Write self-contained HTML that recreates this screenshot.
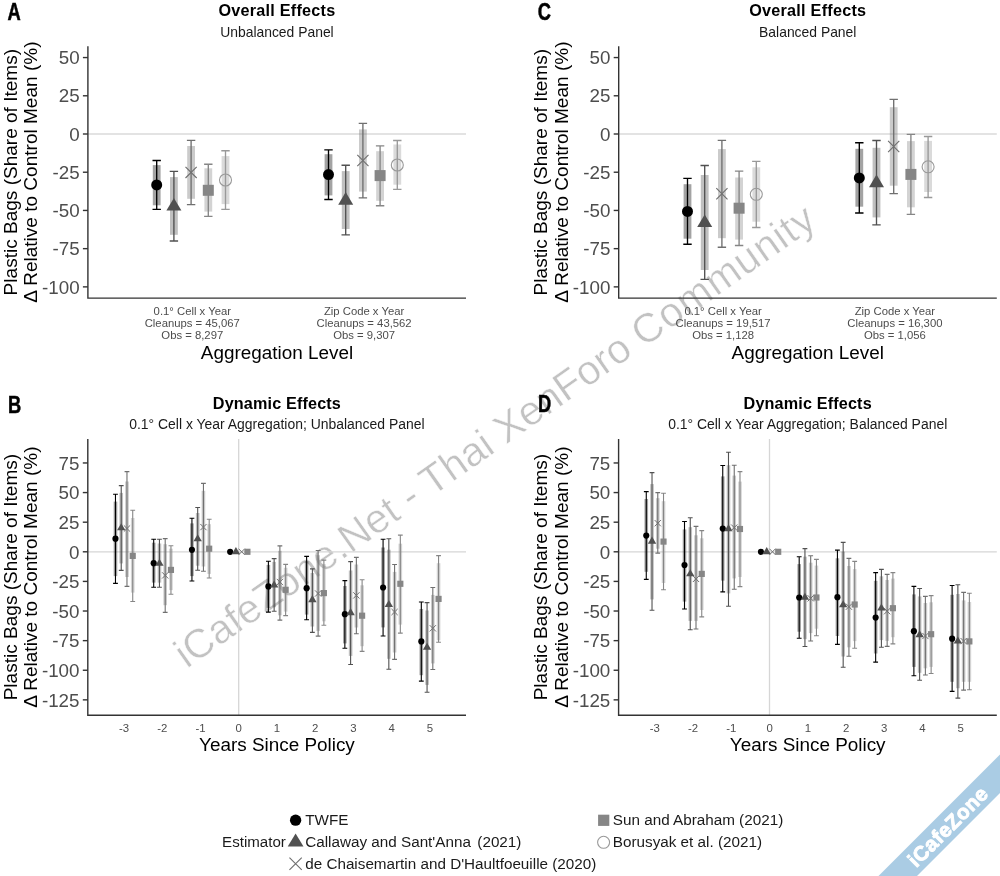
<!DOCTYPE html><html><head><meta charset="utf-8"><title>Plastic bag policy effects</title><style>html,body{margin:0;padding:0;background:#fff;}svg{display:block;will-change:transform;}</style></head><body><svg width="1000" height="876" viewBox="0 0 1000 876" font-family='"Liberation Sans", Arial, Helvetica, sans-serif'><rect width="1000" height="876" fill="#fff"/><text x="0" y="0" font-size="40.9" fill="#c2c2c2" stroke="#fff" stroke-width="0.45" font-family='"Liberation Sans", Arial, sans-serif' transform="translate(186.8 669.0) rotate(-35.1)">iCafeZone.Net - Thai XenForo <tspan textLength="213.5" lengthAdjust="spacing">Community</tspan></text><line x1="87.9" y1="134.0" x2="466" y2="134.0" stroke="#dadada" stroke-width="1.6"/><rect x="152.8" y="165.1" width="7.8" height="40.2" fill="#000000" fill-opacity="0.36"/><path d="M156.7 160.5V209.4M152.5 160.5H160.9M152.5 209.4H160.9" stroke="#000000" stroke-width="1.35" fill="none"/><circle cx="156.7" cy="184.9" r="5.5" fill="#000000"/><rect x="170" y="177.1" width="7.8" height="57.7" fill="#515151" fill-opacity="0.36"/><path d="M173.9 171.4V241M169.7 171.4H178.1M169.7 241H178.1" stroke="#515151" stroke-width="1.35" fill="none"/><polygon points="173.9,198 181.4,210.6 166.4,210.6" fill="#515151"/><rect x="187.2" y="146" width="7.8" height="52.8" fill="#707070" fill-opacity="0.36"/><path d="M191.1 140.4V204.6M186.9 140.4H195.3M186.9 204.6H195.3" stroke="#707070" stroke-width="1.35" fill="none"/><path d="M185.5 166.8L196.7 178M185.5 178L196.7 166.8" stroke="#707070" stroke-width="1.15" fill="none"/><rect x="204.4" y="168.3" width="7.8" height="43.3" fill="#868686" fill-opacity="0.36"/><path d="M208.3 164.2V216.4M204.1 164.2H212.5M204.1 216.4H212.5" stroke="#868686" stroke-width="1.35" fill="none"/><rect x="202.8" y="184.8" width="11" height="11" fill="#868686"/><rect x="221.6" y="156.1" width="7.8" height="48" fill="#999999" fill-opacity="0.36"/><path d="M225.5 150.7V209.4M221.3 150.7H229.7M221.3 209.4H229.7" stroke="#999999" stroke-width="1.35" fill="none"/><circle cx="225.5" cy="180" r="6" fill="none" stroke="#999999" stroke-width="1.1"/><rect x="324.6" y="154.2" width="7.8" height="41.2" fill="#000000" fill-opacity="0.36"/><path d="M328.5 149.8V199.5M324.3 149.8H332.7M324.3 199.5H332.7" stroke="#000000" stroke-width="1.35" fill="none"/><circle cx="328.5" cy="174.6" r="5.5" fill="#000000"/><rect x="341.8" y="171.1" width="7.8" height="57.9" fill="#515151" fill-opacity="0.36"/><path d="M345.7 165.2V234.9M341.5 165.2H349.9M341.5 234.9H349.9" stroke="#515151" stroke-width="1.35" fill="none"/><polygon points="345.7,192.1 353.2,204.7 338.2,204.7" fill="#515151"/><rect x="359" y="129.4" width="7.8" height="62.2" fill="#707070" fill-opacity="0.36"/><path d="M362.9 123.4V197.9M358.7 123.4H367.1M358.7 197.9H367.1" stroke="#707070" stroke-width="1.35" fill="none"/><path d="M357.3 154.9L368.5 166.1M357.3 166.1L368.5 154.9" stroke="#707070" stroke-width="1.15" fill="none"/><rect x="376.2" y="151.2" width="7.8" height="49.6" fill="#868686" fill-opacity="0.36"/><path d="M380.1 145.8V205.7M375.9 145.8H384.3M375.9 205.7H384.3" stroke="#868686" stroke-width="1.35" fill="none"/><rect x="374.6" y="170.1" width="11" height="11" fill="#868686"/><rect x="393.4" y="144.5" width="7.8" height="40.2" fill="#999999" fill-opacity="0.36"/><path d="M397.3 140.5V189.3M393.1 140.5H401.5M393.1 189.3H401.5" stroke="#999999" stroke-width="1.35" fill="none"/><circle cx="397.3" cy="165" r="6" fill="none" stroke="#999999" stroke-width="1.1"/><path d="M87.9 46.2V298.1H466" stroke="#333" stroke-width="1.4" fill="none"/><line x1="82.9" y1="57.56" x2="87.9" y2="57.56" stroke="#333" stroke-width="1.4"/><text x="79.6" y="64.27" font-size="18.8" text-anchor="end" font-weight="normal" fill="#4d4d4d">50</text><line x1="82.9" y1="95.78" x2="87.9" y2="95.78" stroke="#333" stroke-width="1.4"/><text x="79.6" y="102.48" font-size="18.8" text-anchor="end" font-weight="normal" fill="#4d4d4d">25</text><line x1="82.9" y1="134" x2="87.9" y2="134" stroke="#333" stroke-width="1.4"/><text x="79.6" y="140.7" font-size="18.8" text-anchor="end" font-weight="normal" fill="#4d4d4d">0</text><line x1="82.9" y1="172.22" x2="87.9" y2="172.22" stroke="#333" stroke-width="1.4"/><text x="79.6" y="178.92" font-size="18.8" text-anchor="end" font-weight="normal" fill="#4d4d4d">-25</text><line x1="82.9" y1="210.44" x2="87.9" y2="210.44" stroke="#333" stroke-width="1.4"/><text x="79.6" y="217.13" font-size="18.8" text-anchor="end" font-weight="normal" fill="#4d4d4d">-50</text><line x1="82.9" y1="248.65" x2="87.9" y2="248.65" stroke="#333" stroke-width="1.4"/><text x="79.6" y="255.35" font-size="18.8" text-anchor="end" font-weight="normal" fill="#4d4d4d">-75</text><line x1="82.9" y1="286.87" x2="87.9" y2="286.87" stroke="#333" stroke-width="1.4"/><text x="79.6" y="293.57" font-size="18.8" text-anchor="end" font-weight="normal" fill="#4d4d4d">-100</text><text x="192.3" y="315.2" font-size="11.3" text-anchor="middle" font-weight="normal" fill="#4d4d4d">0.1° Cell x Year</text><text x="192.3" y="327.1" font-size="11.3" text-anchor="middle" font-weight="normal" fill="#4d4d4d">Cleanups = 45,067</text><text x="192.3" y="339" font-size="11.3" text-anchor="middle" font-weight="normal" fill="#4d4d4d">Obs = 8,297</text><text x="364.1" y="315.2" font-size="11.3" text-anchor="middle" font-weight="normal" fill="#4d4d4d">Zip Code x Year</text><text x="364.1" y="327.1" font-size="11.3" text-anchor="middle" font-weight="normal" fill="#4d4d4d">Cleanups = 43,562</text><text x="364.1" y="339" font-size="11.3" text-anchor="middle" font-weight="normal" fill="#4d4d4d">Obs = 9,307</text><text x="276.95" y="358.8" font-size="18.9" text-anchor="middle" font-weight="normal" fill="#000">Aggregation Level</text><text x="276.95" y="16.1" font-size="16.2" text-anchor="middle" font-weight="bold" fill="#000" letter-spacing="0.25">Overall Effects</text><text x="276.95" y="36.5" font-size="13.9" text-anchor="middle" font-weight="normal" fill="#1a1a1a">Unbalanced Panel</text><text x="16.6" y="172.15" font-size="19.05" text-anchor="middle" font-weight="normal" fill="#000" transform="rotate(-90 16.6 172.15)">Plastic Bags (Share of Items)</text><text x="37.2" y="172.15" font-size="19.05" text-anchor="middle" font-weight="normal" fill="#000" transform="rotate(-90 37.2 172.15)">&#916; Relative to Control Mean (%)</text><line x1="618.7" y1="134.0" x2="996.8" y2="134.0" stroke="#dadada" stroke-width="1.6"/><rect x="683.6" y="184.2" width="7.8" height="54.5" fill="#000000" fill-opacity="0.36"/><path d="M687.5 178.3V244.2M683.3 178.3H691.7M683.3 244.2H691.7" stroke="#000000" stroke-width="1.35" fill="none"/><circle cx="687.5" cy="211.4" r="5.5" fill="#000000"/><rect x="700.8" y="175" width="7.8" height="95" fill="#515151" fill-opacity="0.36"/><path d="M704.7 165.5V279.4M700.5 165.5H708.9M700.5 279.4H708.9" stroke="#515151" stroke-width="1.35" fill="none"/><polygon points="704.7,214.4 712.2,227 697.2,227" fill="#515151"/><rect x="718" y="149.1" width="7.8" height="89.1" fill="#707070" fill-opacity="0.36"/><path d="M721.9 140.4V247.2M717.7 140.4H726.1M717.7 247.2H726.1" stroke="#707070" stroke-width="1.35" fill="none"/><path d="M716.3 188.2L727.5 199.4M716.3 199.4L727.5 188.2" stroke="#707070" stroke-width="1.15" fill="none"/><rect x="735.2" y="177.5" width="7.8" height="62.1" fill="#868686" fill-opacity="0.36"/><path d="M739.1 171.1V245.5M734.9 171.1H743.3M734.9 245.5H743.3" stroke="#868686" stroke-width="1.35" fill="none"/><rect x="733.6" y="202.7" width="11" height="11" fill="#868686"/><rect x="752.4" y="167.3" width="7.8" height="54.4" fill="#999999" fill-opacity="0.36"/><path d="M756.3 161.4V227.5M752.1 161.4H760.5M752.1 227.5H760.5" stroke="#999999" stroke-width="1.35" fill="none"/><circle cx="756.3" cy="194.3" r="6" fill="none" stroke="#999999" stroke-width="1.1"/><rect x="855.4" y="148.8" width="7.8" height="57.9" fill="#000000" fill-opacity="0.36"/><path d="M859.3 142.7V213M855.1 142.7H863.5M855.1 213H863.5" stroke="#000000" stroke-width="1.35" fill="none"/><circle cx="859.3" cy="177.9" r="5.5" fill="#000000"/><rect x="872.6" y="147.8" width="7.8" height="69.6" fill="#515151" fill-opacity="0.36"/><path d="M876.5 140.5V224.9M872.3 140.5H880.7M872.3 224.9H880.7" stroke="#515151" stroke-width="1.35" fill="none"/><polygon points="876.5,174.6 884,187.2 869,187.2" fill="#515151"/><rect x="889.8" y="107.2" width="7.8" height="78.5" fill="#707070" fill-opacity="0.36"/><path d="M893.7 99.4V193.6M889.5 99.4H897.9M889.5 193.6H897.9" stroke="#707070" stroke-width="1.35" fill="none"/><path d="M888.1 140.9L899.3 152.1M888.1 152.1L899.3 140.9" stroke="#707070" stroke-width="1.15" fill="none"/><rect x="907" y="141.1" width="7.8" height="66.2" fill="#868686" fill-opacity="0.36"/><path d="M910.9 134.3V214.4M906.7 134.3H915.1M906.7 214.4H915.1" stroke="#868686" stroke-width="1.35" fill="none"/><rect x="905.4" y="168.9" width="11" height="11" fill="#868686"/><rect x="924.2" y="140.9" width="7.8" height="51.1" fill="#999999" fill-opacity="0.36"/><path d="M928.1 136.5V197.5M923.9 136.5H932.3M923.9 197.5H932.3" stroke="#999999" stroke-width="1.35" fill="none"/><circle cx="928.1" cy="166.8" r="6" fill="none" stroke="#999999" stroke-width="1.1"/><path d="M618.7 46.2V298.1H996.8" stroke="#333" stroke-width="1.4" fill="none"/><line x1="613.7" y1="57.56" x2="618.7" y2="57.56" stroke="#333" stroke-width="1.4"/><text x="610.4" y="64.27" font-size="18.8" text-anchor="end" font-weight="normal" fill="#4d4d4d">50</text><line x1="613.7" y1="95.78" x2="618.7" y2="95.78" stroke="#333" stroke-width="1.4"/><text x="610.4" y="102.48" font-size="18.8" text-anchor="end" font-weight="normal" fill="#4d4d4d">25</text><line x1="613.7" y1="134" x2="618.7" y2="134" stroke="#333" stroke-width="1.4"/><text x="610.4" y="140.7" font-size="18.8" text-anchor="end" font-weight="normal" fill="#4d4d4d">0</text><line x1="613.7" y1="172.22" x2="618.7" y2="172.22" stroke="#333" stroke-width="1.4"/><text x="610.4" y="178.92" font-size="18.8" text-anchor="end" font-weight="normal" fill="#4d4d4d">-25</text><line x1="613.7" y1="210.44" x2="618.7" y2="210.44" stroke="#333" stroke-width="1.4"/><text x="610.4" y="217.13" font-size="18.8" text-anchor="end" font-weight="normal" fill="#4d4d4d">-50</text><line x1="613.7" y1="248.65" x2="618.7" y2="248.65" stroke="#333" stroke-width="1.4"/><text x="610.4" y="255.35" font-size="18.8" text-anchor="end" font-weight="normal" fill="#4d4d4d">-75</text><line x1="613.7" y1="286.87" x2="618.7" y2="286.87" stroke="#333" stroke-width="1.4"/><text x="610.4" y="293.57" font-size="18.8" text-anchor="end" font-weight="normal" fill="#4d4d4d">-100</text><text x="723.1" y="315.2" font-size="11.3" text-anchor="middle" font-weight="normal" fill="#4d4d4d">0.1° Cell x Year</text><text x="723.1" y="327.1" font-size="11.3" text-anchor="middle" font-weight="normal" fill="#4d4d4d">Cleanups = 19,517</text><text x="723.1" y="339" font-size="11.3" text-anchor="middle" font-weight="normal" fill="#4d4d4d">Obs = 1,128</text><text x="894.9" y="315.2" font-size="11.3" text-anchor="middle" font-weight="normal" fill="#4d4d4d">Zip Code x Year</text><text x="894.9" y="327.1" font-size="11.3" text-anchor="middle" font-weight="normal" fill="#4d4d4d">Cleanups = 16,300</text><text x="894.9" y="339" font-size="11.3" text-anchor="middle" font-weight="normal" fill="#4d4d4d">Obs = 1,056</text><text x="807.75" y="358.8" font-size="18.9" text-anchor="middle" font-weight="normal" fill="#000">Aggregation Level</text><text x="807.75" y="16.1" font-size="16.2" text-anchor="middle" font-weight="bold" fill="#000" letter-spacing="0.25">Overall Effects</text><text x="807.75" y="36.5" font-size="13.9" text-anchor="middle" font-weight="normal" fill="#1a1a1a">Balanced Panel</text><text x="547.4" y="172.15" font-size="19.05" text-anchor="middle" font-weight="normal" fill="#000" transform="rotate(-90 547.4 172.15)">Plastic Bags (Share of Items)</text><text x="568" y="172.15" font-size="19.05" text-anchor="middle" font-weight="normal" fill="#000" transform="rotate(-90 568 172.15)">&#916; Relative to Control Mean (%)</text><line x1="87.8" y1="551.8" x2="466" y2="551.8" stroke="#d6d6d6" stroke-width="1.3"/><line x1="238.7" y1="438.9" x2="238.7" y2="715.3" stroke="#d6d6d6" stroke-width="1.3"/><rect x="113.67" y="501.6" width="3.6" height="74.5" fill="#000000" fill-opacity="0.36"/><path d="M115.47 494.3V583.4M113.07 494.3H117.88M113.07 583.4H117.88" stroke="#000000" stroke-width="1.1" fill="none"/><circle cx="115.47" cy="538.7" r="3.08" fill="#000000"/><rect x="119.42" y="492.9" width="3.6" height="70.5" fill="#515151" fill-opacity="0.36"/><path d="M121.22 485.6V570.4M118.82 485.6H123.62M118.82 570.4H123.62" stroke="#515151" stroke-width="1.1" fill="none"/><polygon points="121.22,523.3 125.42,530.35 117.02,530.35" fill="#515151"/><rect x="125.17" y="481.5" width="3.6" height="95.5" fill="#707070" fill-opacity="0.36"/><path d="M126.97 471.6V586.4M124.57 471.6H129.38M124.57 586.4H129.38" stroke="#707070" stroke-width="1.1" fill="none"/><path d="M123.84 525.36L130.11 531.64M123.84 531.64L130.11 525.36" stroke="#707070" stroke-width="1" fill="none"/><rect x="130.92" y="518" width="3.6" height="74.6" fill="#868686" fill-opacity="0.36"/><path d="M132.72 510.3V601.5M130.32 510.3H135.12M130.32 601.5H135.12" stroke="#868686" stroke-width="1.1" fill="none"/><rect x="129.64" y="552.82" width="6.16" height="6.16" fill="#868686"/><rect x="151.9" y="542.7" width="3.6" height="39.9" fill="#000000" fill-opacity="0.36"/><path d="M153.7 539.3V587.3M151.3 539.3H156.1M151.3 587.3H156.1" stroke="#000000" stroke-width="1.1" fill="none"/><circle cx="153.7" cy="563.2" r="3.08" fill="#000000"/><rect x="157.65" y="543.5" width="3.6" height="39.1" fill="#515151" fill-opacity="0.36"/><path d="M159.45 539.3V587.3M157.05 539.3H161.85M157.05 587.3H161.85" stroke="#515151" stroke-width="1.1" fill="none"/><polygon points="159.45,558.8 163.65,565.85 155.25,565.85" fill="#515151"/><rect x="163.4" y="544.2" width="3.6" height="61" fill="#707070" fill-opacity="0.36"/><path d="M165.2 538.6V612.4M162.8 538.6H167.6M162.8 612.4H167.6" stroke="#707070" stroke-width="1.1" fill="none"/><path d="M162.07 572.26L168.34 578.54M162.07 578.54L168.34 572.26" stroke="#707070" stroke-width="1" fill="none"/><rect x="169.15" y="548.7" width="3.6" height="41.4" fill="#868686" fill-opacity="0.36"/><path d="M170.95 545.7V594.2M168.55 545.7H173.35M168.55 594.2H173.35" stroke="#868686" stroke-width="1.1" fill="none"/><rect x="167.87" y="566.82" width="6.16" height="6.16" fill="#868686"/><rect x="190.13" y="523.4" width="3.6" height="52.7" fill="#000000" fill-opacity="0.36"/><path d="M191.94 518.2V581M189.53 518.2H194.34M189.53 581H194.34" stroke="#000000" stroke-width="1.1" fill="none"/><circle cx="191.94" cy="549.8" r="3.08" fill="#000000"/><rect x="195.88" y="513" width="3.6" height="52.7" fill="#515151" fill-opacity="0.36"/><path d="M197.69 507.5V570.2M195.28 507.5H200.09M195.28 570.2H200.09" stroke="#515151" stroke-width="1.1" fill="none"/><polygon points="197.69,534.3 201.88,541.35 193.49,541.35" fill="#515151"/><rect x="201.63" y="490.8" width="3.6" height="75.7" fill="#707070" fill-opacity="0.36"/><path d="M203.44 483.4V571.2M201.03 483.4H205.84M201.03 571.2H205.84" stroke="#707070" stroke-width="1.1" fill="none"/><path d="M200.3 523.96L206.57 530.24M200.3 530.24L206.57 523.96" stroke="#707070" stroke-width="1" fill="none"/><rect x="207.38" y="524.2" width="3.6" height="49.7" fill="#868686" fill-opacity="0.36"/><path d="M209.19 519.3V578M206.78 519.3H211.59M206.78 578H211.59" stroke="#868686" stroke-width="1.1" fill="none"/><rect x="206.1" y="545.62" width="6.16" height="6.16" fill="#868686"/><circle cx="230.16" cy="551.8" r="3.08" fill="#000000"/><polygon points="235.91,547.1 240.11,554.15 231.72,554.15" fill="#515151"/><path d="M238.53 548.66L244.8 554.94M238.53 554.94L244.8 548.66" stroke="#707070" stroke-width="1" fill="none"/><rect x="244.33" y="548.72" width="6.16" height="6.16" fill="#868686"/><rect x="266.59" y="564.9" width="3.6" height="43" fill="#000000" fill-opacity="0.36"/><path d="M268.39 561.2V612.1M266 561.2H270.79M266 612.1H270.79" stroke="#000000" stroke-width="1.1" fill="none"/><circle cx="268.39" cy="586.4" r="3.08" fill="#000000"/><rect x="272.34" y="561.9" width="3.6" height="45.3" fill="#515151" fill-opacity="0.36"/><path d="M274.14 558.6V611.3M271.75 558.6H276.54M271.75 611.3H276.54" stroke="#515151" stroke-width="1.1" fill="none"/><polygon points="274.14,580.5 278.34,587.55 269.94,587.55" fill="#515151"/><rect x="278.09" y="550.8" width="3.6" height="64.5" fill="#707070" fill-opacity="0.36"/><path d="M279.89 545.9V620.1M277.5 545.9H282.29M277.5 620.1H282.29" stroke="#707070" stroke-width="1.1" fill="none"/><path d="M276.76 578.86L283.03 585.14M276.76 585.14L283.03 578.86" stroke="#707070" stroke-width="1" fill="none"/><rect x="283.84" y="567.8" width="3.6" height="43.8" fill="#868686" fill-opacity="0.36"/><path d="M285.64 564.4V615.6M283.25 564.4H288.04M283.25 615.6H288.04" stroke="#868686" stroke-width="1.1" fill="none"/><rect x="282.56" y="586.72" width="6.16" height="6.16" fill="#868686"/><rect x="304.82" y="561.2" width="3.6" height="53.4" fill="#000000" fill-opacity="0.36"/><path d="M306.62 556.4V619.8M304.23 556.4H309.02M304.23 619.8H309.02" stroke="#000000" stroke-width="1.1" fill="none"/><circle cx="306.62" cy="588.2" r="3.08" fill="#000000"/><rect x="310.57" y="573" width="3.6" height="53.5" fill="#515151" fill-opacity="0.36"/><path d="M312.38 568.9V632.4M309.98 568.9H314.77M309.98 632.4H314.77" stroke="#515151" stroke-width="1.1" fill="none"/><polygon points="312.38,595.1 316.57,602.15 308.18,602.15" fill="#515151"/><rect x="316.32" y="555.2" width="3.6" height="75.7" fill="#707070" fill-opacity="0.36"/><path d="M318.12 550.5V636.1M315.73 550.5H320.52M315.73 636.1H320.52" stroke="#707070" stroke-width="1.1" fill="none"/><path d="M314.99 590.36L321.26 596.64M314.99 596.64L321.26 590.36" stroke="#707070" stroke-width="1" fill="none"/><rect x="322.07" y="564.1" width="3.6" height="57.2" fill="#868686" fill-opacity="0.36"/><path d="M323.88 560.1V625.3M321.48 560.1H326.27M321.48 625.3H326.27" stroke="#868686" stroke-width="1.1" fill="none"/><rect x="320.8" y="590.02" width="6.16" height="6.16" fill="#868686"/><rect x="343.06" y="586" width="3.6" height="57.4" fill="#000000" fill-opacity="0.36"/><path d="M344.86 580.6V648.3M342.46 580.6H347.25M342.46 648.3H347.25" stroke="#000000" stroke-width="1.1" fill="none"/><circle cx="344.86" cy="614.2" r="3.08" fill="#000000"/><rect x="348.81" y="570.5" width="3.6" height="85.4" fill="#515151" fill-opacity="0.36"/><path d="M350.61 561.6V664.5M348.21 561.6H353M348.21 664.5H353" stroke="#515151" stroke-width="1.1" fill="none"/><polygon points="350.61,608.1 354.81,615.15 346.41,615.15" fill="#515151"/><rect x="354.56" y="564.5" width="3.6" height="63" fill="#707070" fill-opacity="0.36"/><path d="M356.36 557.4V633.7M353.96 557.4H358.75M353.96 633.7H358.75" stroke="#707070" stroke-width="1.1" fill="none"/><path d="M353.22 592.26L359.49 598.54M353.22 598.54L359.49 592.26" stroke="#707070" stroke-width="1" fill="none"/><rect x="360.31" y="585.3" width="3.6" height="60.9" fill="#868686" fill-opacity="0.36"/><path d="M362.11 579.8V651.4M359.71 579.8H364.5M359.71 651.4H364.5" stroke="#868686" stroke-width="1.1" fill="none"/><rect x="359.03" y="612.62" width="6.16" height="6.16" fill="#868686"/><rect x="381.28" y="547.5" width="3.6" height="79.9" fill="#000000" fill-opacity="0.36"/><path d="M383.08 539.3V636M380.68 539.3H385.48M380.68 636H385.48" stroke="#000000" stroke-width="1.1" fill="none"/><circle cx="383.08" cy="587.5" r="3.08" fill="#000000"/><rect x="387.03" y="549.7" width="3.6" height="109.1" fill="#515151" fill-opacity="0.36"/><path d="M388.83 538.8V669.3M386.43 538.8H391.23M386.43 669.3H391.23" stroke="#515151" stroke-width="1.1" fill="none"/><polygon points="388.83,599.9 393.03,606.95 384.63,606.95" fill="#515151"/><rect x="392.78" y="571.9" width="3.6" height="80.6" fill="#707070" fill-opacity="0.36"/><path d="M394.58 564.5V659.4M392.18 564.5H396.98M392.18 659.4H396.98" stroke="#707070" stroke-width="1.1" fill="none"/><path d="M391.45 608.86L397.72 615.14M391.45 615.14L397.72 608.86" stroke="#707070" stroke-width="1" fill="none"/><rect x="398.53" y="543.7" width="3.6" height="80.9" fill="#868686" fill-opacity="0.36"/><path d="M400.33 535.1V633.1M397.93 535.1H402.73M397.93 633.1H402.73" stroke="#868686" stroke-width="1.1" fill="none"/><rect x="397.25" y="580.72" width="6.16" height="6.16" fill="#868686"/><rect x="419.51" y="609" width="3.6" height="66.2" fill="#000000" fill-opacity="0.36"/><path d="M421.31 602V681.1M418.91 602H423.71M418.91 681.1H423.71" stroke="#000000" stroke-width="1.1" fill="none"/><circle cx="421.31" cy="641.4" r="3.08" fill="#000000"/><rect x="425.26" y="610.5" width="3.6" height="74.4" fill="#515151" fill-opacity="0.36"/><path d="M427.06 602.6V692.3M424.66 602.6H429.46M424.66 692.3H429.46" stroke="#515151" stroke-width="1.1" fill="none"/><polygon points="427.06,642.7 431.26,649.75 422.86,649.75" fill="#515151"/><rect x="431.01" y="594.9" width="3.6" height="68.5" fill="#707070" fill-opacity="0.36"/><path d="M432.81 587.5V669.5M430.41 587.5H435.21M430.41 669.5H435.21" stroke="#707070" stroke-width="1.1" fill="none"/><path d="M429.68 625.16L435.95 631.44M429.68 631.44L435.95 625.16" stroke="#707070" stroke-width="1" fill="none"/><rect x="436.76" y="563.2" width="3.6" height="77.1" fill="#868686" fill-opacity="0.36"/><path d="M438.56 555.6V642.3M436.16 555.6H440.96M436.16 642.3H440.96" stroke="#868686" stroke-width="1.1" fill="none"/><rect x="435.48" y="595.82" width="6.16" height="6.16" fill="#868686"/><path d="M87.8 438.9V715.3H466" stroke="#333" stroke-width="1.4" fill="none"/><line x1="82.8" y1="462.96" x2="87.8" y2="462.96" stroke="#333" stroke-width="1.4"/><text x="79.5" y="469.66" font-size="18.8" text-anchor="end" font-weight="normal" fill="#4d4d4d">75</text><line x1="82.8" y1="492.57" x2="87.8" y2="492.57" stroke="#333" stroke-width="1.4"/><text x="79.5" y="499.27" font-size="18.8" text-anchor="end" font-weight="normal" fill="#4d4d4d">50</text><line x1="82.8" y1="522.19" x2="87.8" y2="522.19" stroke="#333" stroke-width="1.4"/><text x="79.5" y="528.89" font-size="18.8" text-anchor="end" font-weight="normal" fill="#4d4d4d">25</text><line x1="82.8" y1="551.8" x2="87.8" y2="551.8" stroke="#333" stroke-width="1.4"/><text x="79.5" y="558.5" font-size="18.8" text-anchor="end" font-weight="normal" fill="#4d4d4d">0</text><line x1="82.8" y1="581.41" x2="87.8" y2="581.41" stroke="#333" stroke-width="1.4"/><text x="79.5" y="588.11" font-size="18.8" text-anchor="end" font-weight="normal" fill="#4d4d4d">-25</text><line x1="82.8" y1="611.02" x2="87.8" y2="611.02" stroke="#333" stroke-width="1.4"/><text x="79.5" y="617.73" font-size="18.8" text-anchor="end" font-weight="normal" fill="#4d4d4d">-50</text><line x1="82.8" y1="640.64" x2="87.8" y2="640.64" stroke="#333" stroke-width="1.4"/><text x="79.5" y="647.34" font-size="18.8" text-anchor="end" font-weight="normal" fill="#4d4d4d">-75</text><line x1="82.8" y1="670.25" x2="87.8" y2="670.25" stroke="#333" stroke-width="1.4"/><text x="79.5" y="676.95" font-size="18.8" text-anchor="end" font-weight="normal" fill="#4d4d4d">-100</text><line x1="82.8" y1="699.86" x2="87.8" y2="699.86" stroke="#333" stroke-width="1.4"/><text x="79.5" y="706.56" font-size="18.8" text-anchor="end" font-weight="normal" fill="#4d4d4d">-125</text><text x="124.1" y="731.6" font-size="11.4" text-anchor="middle" font-weight="normal" fill="#4d4d4d">-3</text><text x="162.33" y="731.6" font-size="11.4" text-anchor="middle" font-weight="normal" fill="#4d4d4d">-2</text><text x="200.56" y="731.6" font-size="11.4" text-anchor="middle" font-weight="normal" fill="#4d4d4d">-1</text><text x="238.79" y="731.6" font-size="11.4" text-anchor="middle" font-weight="normal" fill="#4d4d4d">0</text><text x="277.02" y="731.6" font-size="11.4" text-anchor="middle" font-weight="normal" fill="#4d4d4d">1</text><text x="315.25" y="731.6" font-size="11.4" text-anchor="middle" font-weight="normal" fill="#4d4d4d">2</text><text x="353.48" y="731.6" font-size="11.4" text-anchor="middle" font-weight="normal" fill="#4d4d4d">3</text><text x="391.71" y="731.6" font-size="11.4" text-anchor="middle" font-weight="normal" fill="#4d4d4d">4</text><text x="429.94" y="731.6" font-size="11.4" text-anchor="middle" font-weight="normal" fill="#4d4d4d">5</text><text x="276.9" y="751.2" font-size="18.9" text-anchor="middle" font-weight="normal" fill="#000">Years Since Policy</text><text x="276.9" y="408.6" font-size="16.2" text-anchor="middle" font-weight="bold" fill="#000" letter-spacing="0.15">Dynamic Effects</text><text x="276.9" y="429" font-size="13.95" text-anchor="middle" font-weight="normal" fill="#1a1a1a">0.1° Cell x Year Aggregation; Unbalanced Panel</text><text x="16.6" y="577.1" font-size="19.05" text-anchor="middle" font-weight="normal" fill="#000" transform="rotate(-90 16.6 577.1)">Plastic Bags (Share of Items)</text><text x="37.2" y="577.1" font-size="19.05" text-anchor="middle" font-weight="normal" fill="#000" transform="rotate(-90 37.2 577.1)">&#916; Relative to Control Mean (%)</text><line x1="618.6" y1="551.8" x2="996.8" y2="551.8" stroke="#d6d6d6" stroke-width="1.3"/><line x1="769.5" y1="438.9" x2="769.5" y2="715.3" stroke="#d6d6d6" stroke-width="1.3"/><rect x="644.48" y="499" width="3.6" height="72.8" fill="#000000" fill-opacity="0.36"/><path d="M646.27 491.6V579.4M643.88 491.6H648.67M643.88 579.4H648.67" stroke="#000000" stroke-width="1.1" fill="none"/><circle cx="646.27" cy="535.6" r="3.08" fill="#000000"/><rect x="650.23" y="484.1" width="3.6" height="115.3" fill="#515151" fill-opacity="0.36"/><path d="M652.02 472.6V610.2M649.62 472.6H654.42M649.62 610.2H654.42" stroke="#515151" stroke-width="1.1" fill="none"/><polygon points="652.02,536.6 656.23,543.65 647.82,543.65" fill="#515151"/><rect x="655.98" y="498.2" width="3.6" height="50.5" fill="#707070" fill-opacity="0.36"/><path d="M657.77 492.6V553.1M655.38 492.6H660.17M655.38 553.1H660.17" stroke="#707070" stroke-width="1.1" fill="none"/><path d="M654.64 520.06L660.91 526.34M654.64 526.34L660.91 520.06" stroke="#707070" stroke-width="1" fill="none"/><rect x="661.73" y="501.2" width="3.6" height="81.8" fill="#868686" fill-opacity="0.36"/><path d="M663.52 493.3V589.7M661.12 493.3H665.92M661.12 589.7H665.92" stroke="#868686" stroke-width="1.1" fill="none"/><rect x="660.44" y="538.52" width="6.16" height="6.16" fill="#868686"/><rect x="682.71" y="529.4" width="3.6" height="72.2" fill="#000000" fill-opacity="0.36"/><path d="M684.5 521.5V609M682.11 521.5H686.9M682.11 609H686.9" stroke="#000000" stroke-width="1.1" fill="none"/><circle cx="684.5" cy="565.1" r="3.08" fill="#000000"/><rect x="688.46" y="527.2" width="3.6" height="93.7" fill="#515151" fill-opacity="0.36"/><path d="M690.25 517.8V629.8M687.86 517.8H692.65M687.86 629.8H692.65" stroke="#515151" stroke-width="1.1" fill="none"/><polygon points="690.25,569.3 694.46,576.35 686.05,576.35" fill="#515151"/><rect x="694.21" y="535.3" width="3.6" height="85.6" fill="#707070" fill-opacity="0.36"/><path d="M696 526.4V629M693.61 526.4H698.4M693.61 629H698.4" stroke="#707070" stroke-width="1.1" fill="none"/><path d="M692.87 575.76L699.14 582.04M692.87 582.04L699.14 575.76" stroke="#707070" stroke-width="1" fill="none"/><rect x="699.96" y="538.3" width="3.6" height="71.7" fill="#868686" fill-opacity="0.36"/><path d="M701.75 530.6V616.9M699.36 530.6H704.15M699.36 616.9H704.15" stroke="#868686" stroke-width="1.1" fill="none"/><rect x="698.67" y="570.82" width="6.16" height="6.16" fill="#868686"/><rect x="720.94" y="476.4" width="3.6" height="104.2" fill="#000000" fill-opacity="0.36"/><path d="M722.74 465.5V591.9M720.34 465.5H725.13M720.34 591.9H725.13" stroke="#000000" stroke-width="1.1" fill="none"/><circle cx="722.74" cy="528.6" r="3.08" fill="#000000"/><rect x="726.69" y="465.2" width="3.6" height="128.2" fill="#515151" fill-opacity="0.36"/><path d="M728.49 452.3V606.2M726.09 452.3H730.88M726.09 606.2H730.88" stroke="#515151" stroke-width="1.1" fill="none"/><polygon points="728.49,524.3 732.69,531.35 724.28,531.35" fill="#515151"/><rect x="732.44" y="475.6" width="3.6" height="102.8" fill="#707070" fill-opacity="0.36"/><path d="M734.24 465.2V589.3M731.84 465.2H736.63M731.84 589.3H736.63" stroke="#707070" stroke-width="1.1" fill="none"/><path d="M731.1 524.46L737.37 530.74M731.1 530.74L737.37 524.46" stroke="#707070" stroke-width="1" fill="none"/><rect x="738.19" y="481.6" width="3.6" height="95.4" fill="#868686" fill-opacity="0.36"/><path d="M739.99 471.6V586.6M737.59 471.6H742.38M737.59 586.6H742.38" stroke="#868686" stroke-width="1.1" fill="none"/><rect x="736.9" y="525.92" width="6.16" height="6.16" fill="#868686"/><circle cx="760.96" cy="551.8" r="3.08" fill="#000000"/><polygon points="766.71,547.1 770.91,554.15 762.51,554.15" fill="#515151"/><path d="M769.33 548.66L775.6 554.94M769.33 554.94L775.6 548.66" stroke="#707070" stroke-width="1" fill="none"/><rect x="775.13" y="548.72" width="6.16" height="6.16" fill="#868686"/><rect x="797.39" y="564.1" width="3.6" height="67.6" fill="#000000" fill-opacity="0.36"/><path d="M799.19 556.7V638.3M796.79 556.7H801.59M796.79 638.3H801.59" stroke="#000000" stroke-width="1.1" fill="none"/><circle cx="799.19" cy="597.5" r="3.08" fill="#000000"/><rect x="803.14" y="556.7" width="3.6" height="82.4" fill="#515151" fill-opacity="0.36"/><path d="M804.94 548.6V646.5M802.54 548.6H807.34M802.54 646.5H807.34" stroke="#515151" stroke-width="1.1" fill="none"/><polygon points="804.94,592.8 809.14,599.85 800.74,599.85" fill="#515151"/><rect x="808.89" y="562.7" width="3.6" height="70.4" fill="#707070" fill-opacity="0.36"/><path d="M810.69 555.7V641M808.29 555.7H813.09M808.29 641H813.09" stroke="#707070" stroke-width="1.1" fill="none"/><path d="M807.56 595.16L813.83 601.44M807.56 601.44L813.83 595.16" stroke="#707070" stroke-width="1" fill="none"/><rect x="814.64" y="565.6" width="3.6" height="63.1" fill="#868686" fill-opacity="0.36"/><path d="M816.44 559.4V635.7M814.04 559.4H818.84M814.04 635.7H818.84" stroke="#868686" stroke-width="1.1" fill="none"/><rect x="813.36" y="594.42" width="6.16" height="6.16" fill="#868686"/><rect x="835.62" y="558.3" width="3.6" height="77.7" fill="#000000" fill-opacity="0.36"/><path d="M837.42 550.1V644.4M835.02 550.1H839.82M835.02 644.4H839.82" stroke="#000000" stroke-width="1.1" fill="none"/><circle cx="837.42" cy="597.2" r="3.08" fill="#000000"/><rect x="841.38" y="551.6" width="3.6" height="104.9" fill="#515151" fill-opacity="0.36"/><path d="M843.17 542.4V667.3M840.77 542.4H845.57M840.77 667.3H845.57" stroke="#515151" stroke-width="1.1" fill="none"/><polygon points="843.17,600.3 847.38,607.35 838.97,607.35" fill="#515151"/><rect x="847.12" y="566" width="3.6" height="81.3" fill="#707070" fill-opacity="0.36"/><path d="M848.92 558.4V656.2M846.52 558.4H851.32M846.52 656.2H851.32" stroke="#707070" stroke-width="1.1" fill="none"/><path d="M845.79 603.56L852.06 609.84M845.79 609.84L852.06 603.56" stroke="#707070" stroke-width="1" fill="none"/><rect x="852.88" y="569.1" width="3.6" height="72" fill="#868686" fill-opacity="0.36"/><path d="M854.67 561.4V648.3M852.27 561.4H857.07M852.27 648.3H857.07" stroke="#868686" stroke-width="1.1" fill="none"/><rect x="851.59" y="601.42" width="6.16" height="6.16" fill="#868686"/><rect x="873.86" y="580.8" width="3.6" height="72.7" fill="#000000" fill-opacity="0.36"/><path d="M875.65 572.6V662.1M873.25 572.6H878.05M873.25 662.1H878.05" stroke="#000000" stroke-width="1.1" fill="none"/><circle cx="875.65" cy="617.6" r="3.08" fill="#000000"/><rect x="879.61" y="576.3" width="3.6" height="63.8" fill="#515151" fill-opacity="0.36"/><path d="M881.4 569.4V647.3M879 569.4H883.8M879 647.3H883.8" stroke="#515151" stroke-width="1.1" fill="none"/><polygon points="881.4,603.5 885.61,610.55 877.2,610.55" fill="#515151"/><rect x="885.36" y="580" width="3.6" height="60.9" fill="#707070" fill-opacity="0.36"/><path d="M887.15 574.4V646.4M884.75 574.4H889.55M884.75 646.4H889.55" stroke="#707070" stroke-width="1.1" fill="none"/><path d="M884.02 608.06L890.29 614.34M884.02 614.34L890.29 608.06" stroke="#707070" stroke-width="1" fill="none"/><rect x="891.11" y="578.6" width="3.6" height="58.6" fill="#868686" fill-opacity="0.36"/><path d="M892.9 572.6V643.9M890.5 572.6H895.3M890.5 643.9H895.3" stroke="#868686" stroke-width="1.1" fill="none"/><rect x="889.82" y="605.12" width="6.16" height="6.16" fill="#868686"/><rect x="912.09" y="594.4" width="3.6" height="72.5" fill="#000000" fill-opacity="0.36"/><path d="M913.88 586.4V675.8M911.49 586.4H916.28M911.49 675.8H916.28" stroke="#000000" stroke-width="1.1" fill="none"/><circle cx="913.88" cy="631.2" r="3.08" fill="#000000"/><rect x="917.84" y="596.4" width="3.6" height="76.4" fill="#515151" fill-opacity="0.36"/><path d="M919.63 588.5V680.2M917.24 588.5H922.03M917.24 680.2H922.03" stroke="#515151" stroke-width="1.1" fill="none"/><polygon points="919.63,630.3 923.84,637.35 915.43,637.35" fill="#515151"/><rect x="923.59" y="603" width="3.6" height="65.3" fill="#707070" fill-opacity="0.36"/><path d="M925.38 596.4V675M922.99 596.4H927.78M922.99 675H927.78" stroke="#707070" stroke-width="1.1" fill="none"/><path d="M922.25 632.86L928.52 639.14M922.25 639.14L928.52 632.86" stroke="#707070" stroke-width="1" fill="none"/><rect x="929.34" y="602.3" width="3.6" height="64.6" fill="#868686" fill-opacity="0.36"/><path d="M931.13 595.6V673.5M928.74 595.6H933.53M928.74 673.5H933.53" stroke="#868686" stroke-width="1.1" fill="none"/><rect x="928.05" y="631.12" width="6.16" height="6.16" fill="#868686"/><rect x="950.32" y="594.8" width="3.6" height="87" fill="#000000" fill-opacity="0.36"/><path d="M952.12 585.5V691.4M949.72 585.5H954.51M949.72 691.4H954.51" stroke="#000000" stroke-width="1.1" fill="none"/><circle cx="952.12" cy="638.7" r="3.08" fill="#000000"/><rect x="956.07" y="594" width="3.6" height="94.2" fill="#515151" fill-opacity="0.36"/><path d="M957.87 584.7V698.1M955.47 584.7H960.26M955.47 698.1H960.26" stroke="#515151" stroke-width="1.1" fill="none"/><polygon points="957.87,636.4 962.07,643.45 953.66,643.45" fill="#515151"/><rect x="961.82" y="600.4" width="3.6" height="81.4" fill="#707070" fill-opacity="0.36"/><path d="M963.62 592.4V690.1M961.22 592.4H966.01M961.22 690.1H966.01" stroke="#707070" stroke-width="1.1" fill="none"/><path d="M960.48 637.96L966.75 644.24M960.48 644.24L966.75 637.96" stroke="#707070" stroke-width="1" fill="none"/><rect x="967.57" y="602" width="3.6" height="79.8" fill="#868686" fill-opacity="0.36"/><path d="M969.37 593.2V689.8M966.97 593.2H971.76M966.97 689.8H971.76" stroke="#868686" stroke-width="1.1" fill="none"/><rect x="966.28" y="638.32" width="6.16" height="6.16" fill="#868686"/><path d="M618.6 438.9V715.3H996.8" stroke="#333" stroke-width="1.4" fill="none"/><line x1="613.6" y1="462.96" x2="618.6" y2="462.96" stroke="#333" stroke-width="1.4"/><text x="610.3" y="469.66" font-size="18.8" text-anchor="end" font-weight="normal" fill="#4d4d4d">75</text><line x1="613.6" y1="492.57" x2="618.6" y2="492.57" stroke="#333" stroke-width="1.4"/><text x="610.3" y="499.27" font-size="18.8" text-anchor="end" font-weight="normal" fill="#4d4d4d">50</text><line x1="613.6" y1="522.19" x2="618.6" y2="522.19" stroke="#333" stroke-width="1.4"/><text x="610.3" y="528.89" font-size="18.8" text-anchor="end" font-weight="normal" fill="#4d4d4d">25</text><line x1="613.6" y1="551.8" x2="618.6" y2="551.8" stroke="#333" stroke-width="1.4"/><text x="610.3" y="558.5" font-size="18.8" text-anchor="end" font-weight="normal" fill="#4d4d4d">0</text><line x1="613.6" y1="581.41" x2="618.6" y2="581.41" stroke="#333" stroke-width="1.4"/><text x="610.3" y="588.11" font-size="18.8" text-anchor="end" font-weight="normal" fill="#4d4d4d">-25</text><line x1="613.6" y1="611.02" x2="618.6" y2="611.02" stroke="#333" stroke-width="1.4"/><text x="610.3" y="617.73" font-size="18.8" text-anchor="end" font-weight="normal" fill="#4d4d4d">-50</text><line x1="613.6" y1="640.64" x2="618.6" y2="640.64" stroke="#333" stroke-width="1.4"/><text x="610.3" y="647.34" font-size="18.8" text-anchor="end" font-weight="normal" fill="#4d4d4d">-75</text><line x1="613.6" y1="670.25" x2="618.6" y2="670.25" stroke="#333" stroke-width="1.4"/><text x="610.3" y="676.95" font-size="18.8" text-anchor="end" font-weight="normal" fill="#4d4d4d">-100</text><line x1="613.6" y1="699.86" x2="618.6" y2="699.86" stroke="#333" stroke-width="1.4"/><text x="610.3" y="706.56" font-size="18.8" text-anchor="end" font-weight="normal" fill="#4d4d4d">-125</text><text x="654.9" y="731.6" font-size="11.4" text-anchor="middle" font-weight="normal" fill="#4d4d4d">-3</text><text x="693.13" y="731.6" font-size="11.4" text-anchor="middle" font-weight="normal" fill="#4d4d4d">-2</text><text x="731.36" y="731.6" font-size="11.4" text-anchor="middle" font-weight="normal" fill="#4d4d4d">-1</text><text x="769.59" y="731.6" font-size="11.4" text-anchor="middle" font-weight="normal" fill="#4d4d4d">0</text><text x="807.82" y="731.6" font-size="11.4" text-anchor="middle" font-weight="normal" fill="#4d4d4d">1</text><text x="846.05" y="731.6" font-size="11.4" text-anchor="middle" font-weight="normal" fill="#4d4d4d">2</text><text x="884.28" y="731.6" font-size="11.4" text-anchor="middle" font-weight="normal" fill="#4d4d4d">3</text><text x="922.51" y="731.6" font-size="11.4" text-anchor="middle" font-weight="normal" fill="#4d4d4d">4</text><text x="960.74" y="731.6" font-size="11.4" text-anchor="middle" font-weight="normal" fill="#4d4d4d">5</text><text x="807.7" y="751.2" font-size="18.9" text-anchor="middle" font-weight="normal" fill="#000">Years Since Policy</text><text x="807.7" y="408.6" font-size="16.2" text-anchor="middle" font-weight="bold" fill="#000" letter-spacing="0.15">Dynamic Effects</text><text x="807.7" y="429" font-size="13.95" text-anchor="middle" font-weight="normal" fill="#1a1a1a">0.1° Cell x Year Aggregation; Balanced Panel</text><text x="547.4" y="577.1" font-size="19.05" text-anchor="middle" font-weight="normal" fill="#000" transform="rotate(-90 547.4 577.1)">Plastic Bags (Share of Items)</text><text x="568" y="577.1" font-size="19.05" text-anchor="middle" font-weight="normal" fill="#000" transform="rotate(-90 568 577.1)">&#916; Relative to Control Mean (%)</text><text x="0" y="0" font-size="23.5" font-weight="bold" fill="#000" stroke="#000" stroke-width="0.5" transform="translate(7.6 20.0) scale(0.78 1)">A</text><text x="0" y="0" font-size="23.5" font-weight="bold" fill="#000" stroke="#000" stroke-width="0.5" transform="translate(7.9 412.6) scale(0.78 1)">B</text><text x="0" y="0" font-size="23.5" font-weight="bold" fill="#000" stroke="#000" stroke-width="0.5" transform="translate(537.8 20.3) scale(0.78 1)">C</text><text x="0" y="0" font-size="23.5" font-weight="bold" fill="#000" stroke="#000" stroke-width="0.5" transform="translate(538.0 412.4) scale(0.78 1)">D</text><text x="222.1" y="847" font-size="15.1" text-anchor="start" font-weight="normal" fill="#1a1a1a">Estimator</text><circle cx="295.6" cy="820.2" r="5.67" fill="#000000"/><polygon points="295.6,833.38 303.48,846.61 287.73,846.61" fill="#515151"/><path d="M289.44 857.54L301.76 869.86M289.44 869.86L301.76 857.54" stroke="#707070" stroke-width="1.15" fill="none"/><rect x="598.09" y="814.69" width="11.22" height="11.22" fill="#868686"/><circle cx="603.6" cy="842.3" r="6" fill="none" stroke="#999999" stroke-width="1.1"/><text x="305.2" y="825.4" font-size="15.25" text-anchor="start" font-weight="normal" fill="#1a1a1a">TWFE</text><text x="305.2" y="847" font-size="15.25" text-anchor="start" font-weight="normal" fill="#1a1a1a">Callaway and Sant'Anna <tspan dx="2.2">(2021)</tspan></text><text x="305.2" y="869" font-size="15.25" text-anchor="start" font-weight="normal" fill="#1a1a1a">de Chaisemartin and D'Haultfoeuille (2020)</text><text x="612.8" y="825.4" font-size="15.25" text-anchor="start" font-weight="normal" fill="#1a1a1a">Sun and Abraham (2021)</text><text x="612.8" y="847" font-size="15.25" text-anchor="start" font-weight="normal" fill="#1a1a1a">Borusyak et al. (2021)</text><polygon points="1000,754.5 1000,793 917,876 878.5,876" fill="#aacce4"/><text x="0" y="0" font-size="20.5" font-weight="bold" fill="#fff" stroke="#fff" stroke-width="0.9" letter-spacing="0.5" text-anchor="middle" transform="translate(953 831.5) rotate(-45)">iCafeZone</text></svg></body></html>
